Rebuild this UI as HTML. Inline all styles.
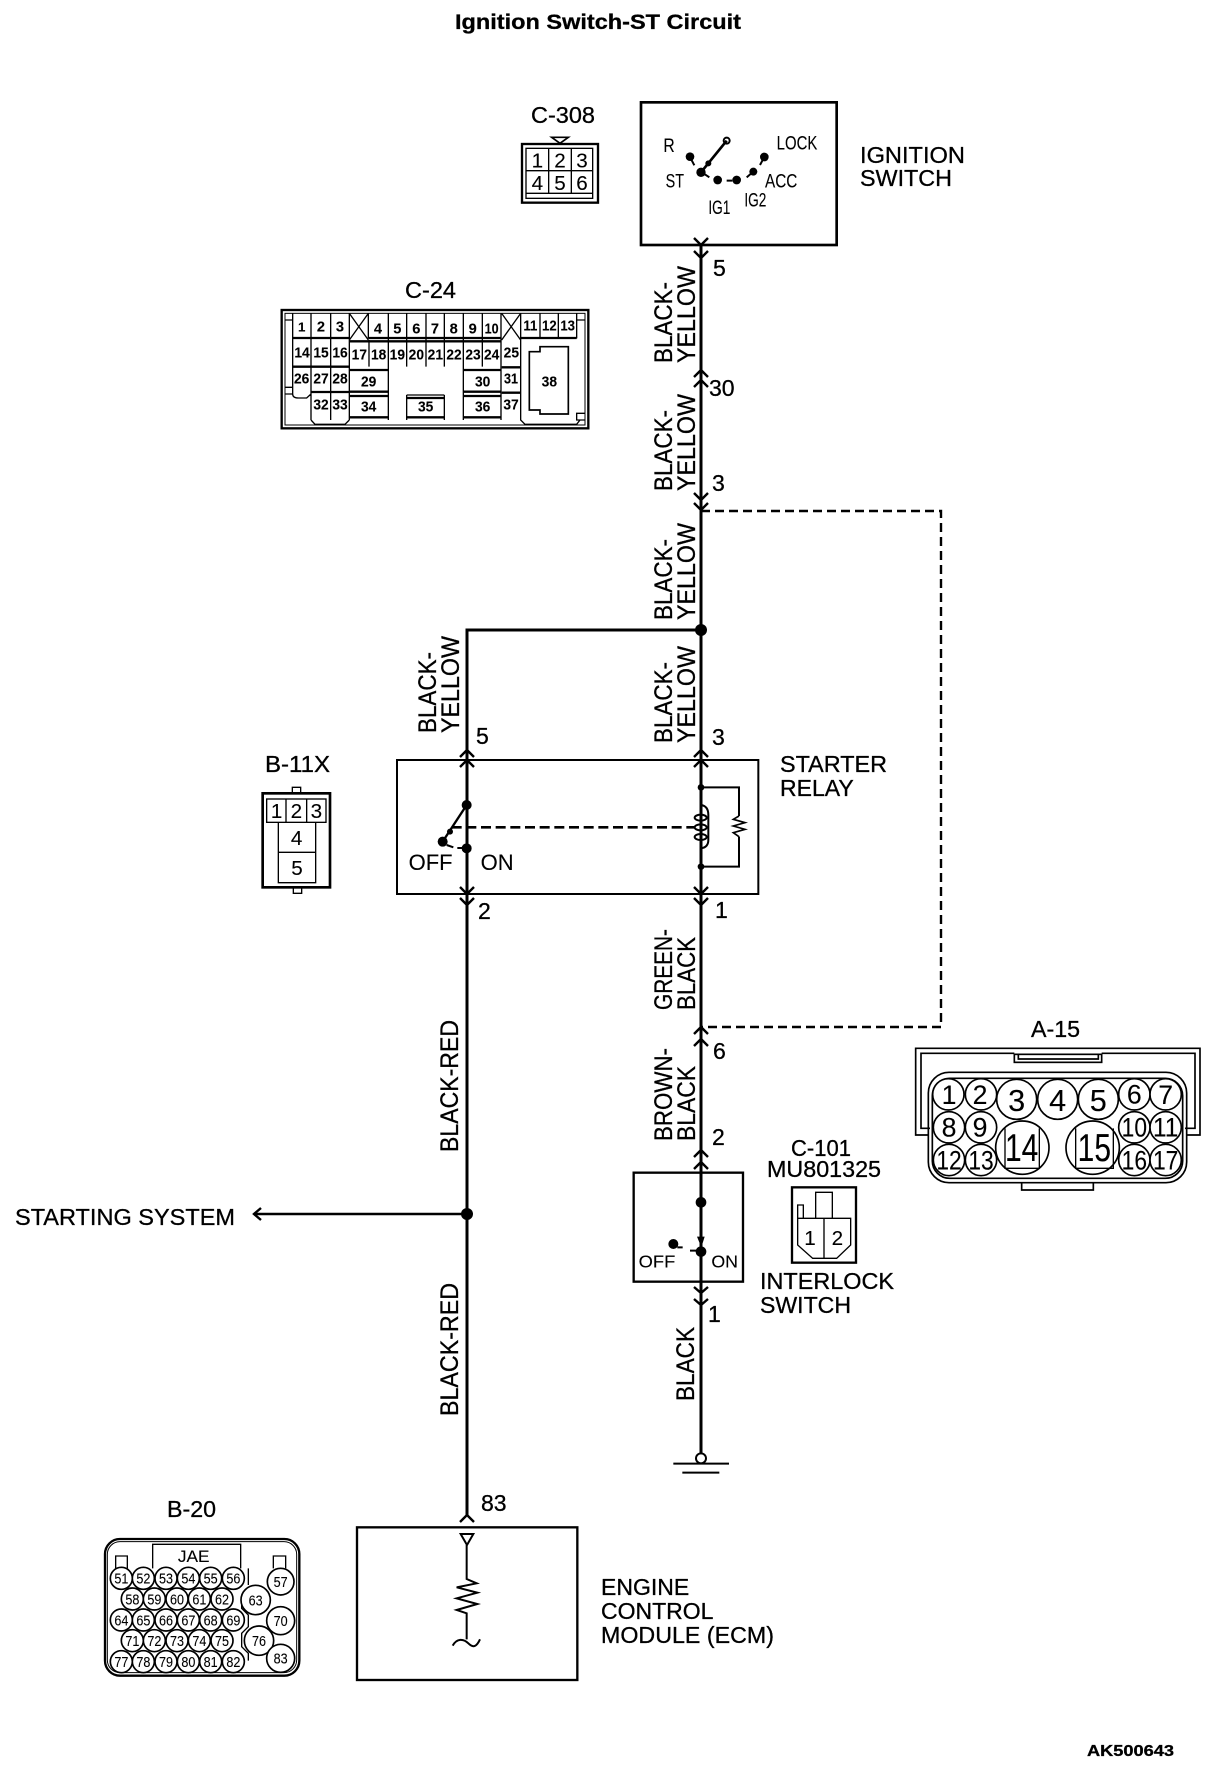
<!DOCTYPE html>
<html><head><meta charset="utf-8"><title>Ignition Switch-ST Circuit</title>
<style>
html,body{margin:0;padding:0;background:#fff}
svg{display:block}
text{font-family:"Liberation Sans",sans-serif;fill:#000;stroke:#000;stroke-width:.3}
.w{fill:none;stroke:#000;stroke-width:3}
.c{fill:none;stroke:#000;stroke-width:2.4}
.t{fill:none;stroke:#000;stroke-width:6}
.f{fill:#000;stroke:none}
.r{font-size:25px}
.n{font-size:23px}
.l{font-size:23px}
.m{text-anchor:middle}
.b{font-weight:bold}
</style></head><body>
<svg xmlns="http://www.w3.org/2000/svg" width="1216" height="1768" viewBox="0 0 1216 1768">
<rect width="1216" height="1768" fill="#fff"/>
<text x="455" y="29" font-size="21" class="b" textLength="286" lengthAdjust="spacingAndGlyphs">Ignition Switch-ST Circuit</text>
<text x="1087" y="1756" font-size="16" class="b" textLength="87" lengthAdjust="spacingAndGlyphs">AK500643</text>

<!-- wires -->
<path class="w" d="M701 245V1458"/>
<path class="w" d="M701 630H467V1515"/>
<path class="w" d="M467 1214H254" style="stroke-width:2.4"/>
<path class="c" d="M261 1208L254 1214L261 1220"/>
<path d="M701 511H941V1027H701" fill="none" stroke="#000" stroke-width="2.4" stroke-dasharray="9 5"/>
<circle cx="701" cy="630" r="6" class="f"/>
<circle cx="467" cy="1214" r="6" class="f"/>

<!-- chevrons -->
<path class="c" d="M694 238L701 245L708 238M694 251L701 258L708 251"/>
<path class="c" d="M694 377L701 370L708 377M694 387L701 380L708 387"/>
<path class="c" d="M694 493L701 500L708 493M694 503L701 510L708 503"/>
<path class="c" d="M694 1034L701 1027L708 1034M694 1046L701 1039L708 1046"/>
<path class="c" d="M694 757L701 750L708 757M694 767L701 760L708 767"/>
<path class="c" d="M460 757L467 750L474 757M460 767L467 760L474 767"/>
<path class="c" d="M460 887L467 894L474 887M460 898L467 905L474 898"/>
<path class="c" d="M694 887L701 894L708 887M694 898L701 905L708 898"/>
<path class="c" d="M694 1157L701 1150L708 1157M694 1169L701 1162L708 1169"/>
<path class="c" d="M694 1287L701 1293L708 1287M694 1299L701 1305L708 1299"/>
<path class="c" d="M460 1522L467 1515L474 1522"/>

<!-- wire labels -->
<g class="r">
<text transform="translate(672,363) rotate(-90)" textLength="81" lengthAdjust="spacingAndGlyphs">BLACK-</text>
<text transform="translate(695,363) rotate(-90)" textLength="97" lengthAdjust="spacingAndGlyphs">YELLOW</text>
<text transform="translate(672,491) rotate(-90)" textLength="81" lengthAdjust="spacingAndGlyphs">BLACK-</text>
<text transform="translate(695,491) rotate(-90)" textLength="97" lengthAdjust="spacingAndGlyphs">YELLOW</text>
<text transform="translate(672,620) rotate(-90)" textLength="81" lengthAdjust="spacingAndGlyphs">BLACK-</text>
<text transform="translate(695,620) rotate(-90)" textLength="97" lengthAdjust="spacingAndGlyphs">YELLOW</text>
<text transform="translate(672,743) rotate(-90)" textLength="81" lengthAdjust="spacingAndGlyphs">BLACK-</text>
<text transform="translate(695,743) rotate(-90)" textLength="97" lengthAdjust="spacingAndGlyphs">YELLOW</text>
<text transform="translate(436,733) rotate(-90)" textLength="81" lengthAdjust="spacingAndGlyphs">BLACK-</text>
<text transform="translate(459,733) rotate(-90)" textLength="97" lengthAdjust="spacingAndGlyphs">YELLOW</text>
<text transform="translate(672,1010) rotate(-90)" textLength="81" lengthAdjust="spacingAndGlyphs">GREEN-</text>
<text transform="translate(695,1010) rotate(-90)" textLength="73" lengthAdjust="spacingAndGlyphs">BLACK</text>
<text transform="translate(672,1141) rotate(-90)" textLength="93" lengthAdjust="spacingAndGlyphs">BROWN-</text>
<text transform="translate(695,1141) rotate(-90)" textLength="75" lengthAdjust="spacingAndGlyphs">BLACK</text>
<text transform="translate(694,1401) rotate(-90)" textLength="74" lengthAdjust="spacingAndGlyphs">BLACK</text>
<text transform="translate(458,1152) rotate(-90)" textLength="132" lengthAdjust="spacingAndGlyphs">BLACK-RED</text>
<text transform="translate(458,1416) rotate(-90)" textLength="133" lengthAdjust="spacingAndGlyphs">BLACK-RED</text>
</g>

<!-- pin numbers -->
<g class="n">
<text x="713" y="276">5</text><text x="709" y="396">30</text><text x="712" y="491">3</text>
<text x="476" y="744">5</text><text x="712" y="745">3</text>
<text x="478" y="919">2</text><text x="715" y="918">1</text>
<text x="713" y="1059">6</text><text x="712" y="1145">2</text><text x="708" y="1322">1</text>
<text x="481" y="1511">83</text>
</g>

<!-- labels -->
<g class="l">
<text x="531" y="123" textLength="64" lengthAdjust="spacingAndGlyphs">C-308</text>
<text x="860" y="163" textLength="105" lengthAdjust="spacingAndGlyphs">IGNITION</text><text x="860" y="186" textLength="92" lengthAdjust="spacingAndGlyphs">SWITCH</text>
<text x="405" y="298" textLength="51" lengthAdjust="spacingAndGlyphs">C-24</text>
<text x="265" y="772" textLength="65" lengthAdjust="spacingAndGlyphs">B-11X</text>
<text x="780" y="772" textLength="107" lengthAdjust="spacingAndGlyphs">STARTER</text><text x="780" y="796">RELAY</text>
<text x="1031" y="1037" textLength="49" lengthAdjust="spacingAndGlyphs">A-15</text>
<text x="791" y="1156" textLength="60" lengthAdjust="spacingAndGlyphs">C-101</text>
<text x="767" y="1177" textLength="114" lengthAdjust="spacingAndGlyphs">MU801325</text>
<text x="760" y="1289" textLength="134" lengthAdjust="spacingAndGlyphs">INTERLOCK</text>
<text x="760" y="1313" textLength="91" lengthAdjust="spacingAndGlyphs">SWITCH</text>
<text x="15" y="1225" textLength="220" lengthAdjust="spacingAndGlyphs">STARTING SYSTEM</text>
<text x="167" y="1517" textLength="49" lengthAdjust="spacingAndGlyphs">B-20</text>
<text x="601" y="1595">ENGINE</text><text x="601" y="1619">CONTROL</text><text x="601" y="1643" textLength="173" lengthAdjust="spacingAndGlyphs">MODULE (ECM)</text>
</g>

<!-- C-308 and ignition switch -->
<g transform="translate(500,80) scale(.33333)">
<rect x="66" y="192" width="228" height="176" class="t" fill="none" style="stroke-width:7"/>
<rect x="78" y="205" width="200" height="150" class="t" style="stroke-width:4"/>
<path class="t" style="stroke-width:4" d="M146 205V340M214 205V340M78 272H278M78 340H278"/>
<path class="t" style="stroke-width:5" d="M155 172H205L180 190Z"/>
<g font-size="62" class="m">
<text x="112" y="262">1</text><text x="180" y="262">2</text><text x="246" y="262">3</text>
<text x="112" y="330">4</text><text x="180" y="330">5</text><text x="246" y="330">6</text>
</g>
<rect x="423" y="67" width="587" height="428" class="t" style="stroke-width:8"/>
<g class="f">
<circle cx="570" cy="230" r="13"/><circle cx="603" cy="277" r="14"/><circle cx="625" cy="250" r="9"/>
<circle cx="653" cy="300" r="13"/><circle cx="710" cy="300" r="13"/><circle cx="760" cy="275" r="12"/><circle cx="793" cy="231" r="13"/>
</g>
<circle cx="680" cy="182" r="9" fill="#fff" stroke="#000" stroke-width="6"/>
<path class="t" d="M603 277L680 182" style="stroke-width:8"/>
<path class="t" d="M572 235L583 256M680 302H697M740 292L760 275M780 255L793 231M610 280L628 292"/>
<g font-size="58">
<text x="490" y="216" textLength="34" lengthAdjust="spacingAndGlyphs">R</text>
<text x="497" y="323" textLength="55" lengthAdjust="spacingAndGlyphs">ST</text>
<text x="625" y="402" textLength="66" lengthAdjust="spacingAndGlyphs">IG1</text>
<text x="733" y="380" textLength="66" lengthAdjust="spacingAndGlyphs">IG2</text>
<text x="795" y="322" textLength="97" lengthAdjust="spacingAndGlyphs">ACC</text>
<text x="830" y="209" textLength="122" lengthAdjust="spacingAndGlyphs">LOCK</text>
</g>
</g>

<!-- C-24 -->
<g transform="translate(260,270) scale(.33333)">
<rect x="65" y="120" width="920" height="355" class="t" style="stroke-width:7"/>
<rect x="75" y="130" width="900" height="335" class="t" style="stroke-width:3"/>
<path class="t" style="stroke-width:4" d="M75 150H98M75 352H98V375M75 372H98Q98 384 115 384H140L153 372M98 130V372M153 130V450M212 130V450M268 130V450M153 450L165 463H255L268 450M268 130L325 210M325 130L268 210M325 130V205M385 130V290M440 130V290M498 130V290M553 130V290M610 130V290M667 130V290M723 130V450M725 210L782 130M725 130L782 210M782 130V450L795 463H950L960 450M840 130V205M895 130V205M950 130V205M327 210V290M385 290V450M610 290V450M440 375V450M553 375V450M975 150H950M975 430H950V450H975M440 375H553"/>
<path class="t" style="stroke-width:7" d="M98 204H268M325 204H723M782 204H950M268 214H723M98 290H268M268 300H385M610 300H723M725 292H782M268 365H385M610 365H723M725 368H782M153 366H268M268 378H385M610 378H723M268 442H385M440 442H553M610 442H723M440 384H553"/>
<path class="t" style="stroke-width:5" d="M808 245H840V230H925V432H840V420H808Z"/>
<g font-size="44" class="m b">
<text x="125" y="184" font-size="40">1</text><text x="183" y="184">2</text><text x="240" y="184">3</text>
<text x="354" y="190">4</text><text x="412" y="190">5</text><text x="469" y="190">6</text><text x="525" y="190">7</text><text x="581" y="190">8</text><text x="638" y="190">9</text>
<text x="695" y="190" textLength="42" lengthAdjust="spacingAndGlyphs">10</text>
<text x="811" y="182" textLength="42" lengthAdjust="spacingAndGlyphs">11</text><text x="868" y="182" textLength="44" lengthAdjust="spacingAndGlyphs">12</text><text x="923" y="182" textLength="44" lengthAdjust="spacingAndGlyphs">13</text>
<text x="126" y="262" textLength="46" lengthAdjust="spacingAndGlyphs">14</text><text x="183" y="262" textLength="46" lengthAdjust="spacingAndGlyphs">15</text><text x="240" y="262" textLength="46" lengthAdjust="spacingAndGlyphs">16</text>
<text x="298" y="268" textLength="46" lengthAdjust="spacingAndGlyphs">17</text><text x="356" y="268" textLength="46" lengthAdjust="spacingAndGlyphs">18</text><text x="412" y="268" textLength="46" lengthAdjust="spacingAndGlyphs">19</text><text x="469" y="268" textLength="46" lengthAdjust="spacingAndGlyphs">20</text><text x="526" y="268" textLength="46" lengthAdjust="spacingAndGlyphs">21</text><text x="582" y="268" textLength="46" lengthAdjust="spacingAndGlyphs">22</text><text x="639" y="268" textLength="46" lengthAdjust="spacingAndGlyphs">23</text><text x="695" y="268" textLength="46" lengthAdjust="spacingAndGlyphs">24</text>
<text x="754" y="262" textLength="46" lengthAdjust="spacingAndGlyphs">25</text>
<text x="125" y="340" textLength="46" lengthAdjust="spacingAndGlyphs">26</text><text x="183" y="340" textLength="46" lengthAdjust="spacingAndGlyphs">27</text><text x="240" y="340" textLength="46" lengthAdjust="spacingAndGlyphs">28</text>
<text x="326" y="350" textLength="46" lengthAdjust="spacingAndGlyphs">29</text><text x="668" y="350" textLength="46" lengthAdjust="spacingAndGlyphs">30</text><text x="753" y="340" textLength="42" lengthAdjust="spacingAndGlyphs">31</text>
<text x="183" y="418" textLength="46" lengthAdjust="spacingAndGlyphs">32</text><text x="240" y="418" textLength="46" lengthAdjust="spacingAndGlyphs">33</text>
<text x="326" y="425" textLength="46" lengthAdjust="spacingAndGlyphs">34</text><text x="497" y="425" textLength="46" lengthAdjust="spacingAndGlyphs">35</text><text x="668" y="425" textLength="46" lengthAdjust="spacingAndGlyphs">36</text><text x="753" y="418" textLength="46" lengthAdjust="spacingAndGlyphs">37</text>
<text x="868" y="350" textLength="46" lengthAdjust="spacingAndGlyphs">38</text>
</g>
</g>

<!-- B-11X and starter relay -->
<g transform="translate(250,740) scale(.33333)">
<rect x="38" y="160" width="202" height="282" class="t" style="stroke-width:8"/>
<path class="t" style="stroke-width:4" d="M127 158V142H152V158M130 444V460H155V444"/>
<rect x="50" y="177" width="178" height="70" class="t" style="stroke-width:4"/>
<path class="t" style="stroke-width:4" d="M108 177V247M170 177V247M85 247V428H197V247M85 337H197"/>
<g font-size="62" class="m">
<text x="80" y="234">1</text><text x="139" y="234">2</text><text x="199" y="234">3</text>
<text x="140" y="315">4</text><text x="141" y="405">5</text>
</g>
<rect x="441" y="60" width="1084" height="402" class="t"/>
<path class="t" d="M650 60V195M650 325V462"/>
<path class="t" style="stroke-width:7" d="M650 195L578 305"/>
<path class="t" d="M590 315L610 322M622 324H650"/>
<g class="f">
<circle cx="650" cy="195" r="15"/><circle cx="578" cy="305" r="15"/><circle cx="600" cy="275" r="9"/><circle cx="650" cy="325" r="15"/>
<circle cx="1353" cy="142" r="10"/><circle cx="1353" cy="380" r="10"/>
</g>
<path fill="none" stroke="#000" stroke-width="8" stroke-dasharray="30 14" d="M605 262H1335"/>
<path class="t" d="M1353 60V195Q1375 198 1375 225V300Q1375 322 1353 325V462"/>
<path class="t" d="M1353 142H1467V228M1467 290V380H1353"/>
<path class="t" style="stroke-width:5" d="M1467 228L1450 238L1485 248L1450 258L1485 268L1450 278L1467 290"/>
<ellipse cx="1352" cy="233" rx="18" ry="9" class="t"/><ellipse cx="1352" cy="262" rx="18" ry="9" class="t"/><ellipse cx="1352" cy="291" rx="18" ry="9" class="t"/>
<g font-size="66">
<text x="476" y="390">OFF</text><text x="692" y="390">ON</text>
</g>
</g>

<!-- A-15 -->
<g transform="translate(900,1010) scale(.33333)">
<g class="t" style="stroke-width:5">
<path d="M85 375H47V115H900V375H860"/>
<path d="M90 355H63V130H343M605 130H885V355H855"/>
<rect x="343" y="133" width="262" height="24"/>
<path d="M355 133V147H595V133"/>
<rect x="85" y="187" width="775" height="331" rx="62"/>
<rect x="97" y="205" width="751" height="300" rx="52"/>
<path d="M365 518V540H580V518"/>
</g>
<g fill="#fff" stroke="#000" stroke-width="5">
<circle cx="145" cy="253" r="47"/><circle cx="243" cy="253" r="47"/><circle cx="350" cy="268" r="60"/><circle cx="473" cy="268" r="60"/><circle cx="595" cy="268" r="60"/><circle cx="703" cy="253" r="47"/><circle cx="797" cy="253" r="47"/>
<circle cx="147" cy="352" r="47"/><circle cx="243" cy="352" r="47"/><circle cx="703" cy="352" r="47"/><circle cx="797" cy="352" r="47"/>
<circle cx="147" cy="450" r="47"/><circle cx="243" cy="450" r="47"/><circle cx="367" cy="413" r="80"/><circle cx="578" cy="413" r="80"/><circle cx="703" cy="450" r="47"/><circle cx="797" cy="450" r="47"/>
</g>
<path class="t" style="stroke-width:4" d="M315 355V475H418V355M527 355V475H640V355"/>
<g font-size="80" class="m">
<text x="147" y="282">1</text><text x="240" y="282">2</text><text x="703" y="280">6</text><text x="797" y="282">7</text>
<text x="147" y="380">8</text><text x="240" y="380">9</text>
<text x="703" y="380" textLength="76" lengthAdjust="spacingAndGlyphs">10</text><text x="797" y="380" textLength="76" lengthAdjust="spacingAndGlyphs">11</text>
<text x="147" y="478" textLength="76" lengthAdjust="spacingAndGlyphs">12</text><text x="243" y="478" textLength="76" lengthAdjust="spacingAndGlyphs">13</text>
<text x="703" y="478" textLength="76" lengthAdjust="spacingAndGlyphs">16</text><text x="797" y="478" textLength="76" lengthAdjust="spacingAndGlyphs">17</text>
</g>
<g font-size="92" class="m">
<text x="350" y="303">3</text><text x="473" y="303">4</text><text x="595" y="303">5</text>
</g>
<g font-size="118" class="m">
<text x="365" y="453" textLength="100" lengthAdjust="spacingAndGlyphs">14</text><text x="583" y="453" textLength="100" lengthAdjust="spacingAndGlyphs">15</text>
</g>
</g>

<!-- Interlock switch and C-101 -->
<g transform="translate(620,1130) scale(.33333)">
<rect x="41" y="128" width="328" height="327" class="t" style="stroke-width:7"/>
<g class="f">
<circle cx="243" cy="217" r="16"/><circle cx="243" cy="365" r="16"/><circle cx="160" cy="342" r="15"/>
<path d="M231 320H254L244 352Z"/>
</g>
<path class="t" d="M210 362H243M172 352H188"/>
<g font-size="52">
<text x="56" y="413" textLength="110" lengthAdjust="spacingAndGlyphs">OFF</text><text x="274" y="413" textLength="80" lengthAdjust="spacingAndGlyphs">ON</text>
</g>
<rect x="516" y="172" width="192" height="226" class="t" style="stroke-width:7"/>
<path class="t" style="stroke-width:4" d="M587 265V187H637V265M533 265H692V345L650 385H578L533 345ZM612 265V385M533 265V225H550V265"/>
<g font-size="62" class="m">
<text x="570" y="345">1</text><text x="652" y="345">2</text>
</g>
</g>

<!-- B-20 -->
<g transform="translate(90,1490) scale(.33333)">
<rect x="45" y="147" width="583" height="410" rx="45" class="t" style="stroke-width:7"/>
<rect x="52" y="155" width="568" height="393" rx="38" class="t" style="stroke-width:3"/>
<path class="t" style="stroke-width:4" d="M188 235V163H452V235M77 235V198H112V235M550 235V198H587V235M475 235V285M455 330V355L475 375V410L455 430V470L475 490V512"/>
<g fill="#fff" stroke="#000" stroke-width="5">
<circle cx="94" cy="265" r="33"/><circle cx="160" cy="265" r="33"/><circle cx="228" cy="265" r="33"/><circle cx="295" cy="265" r="33"/><circle cx="362" cy="265" r="33"/><circle cx="430" cy="265" r="33"/>
<circle cx="127" cy="327" r="33"/><circle cx="193" cy="327" r="33"/><circle cx="261" cy="327" r="33"/><circle cx="328" cy="327" r="33"/><circle cx="396" cy="327" r="33"/>
<circle cx="94" cy="390" r="33"/><circle cx="160" cy="390" r="33"/><circle cx="228" cy="390" r="33"/><circle cx="295" cy="390" r="33"/><circle cx="362" cy="390" r="33"/><circle cx="430" cy="390" r="33"/>
<circle cx="127" cy="452" r="33"/><circle cx="193" cy="452" r="33"/><circle cx="261" cy="452" r="33"/><circle cx="328" cy="452" r="33"/><circle cx="396" cy="452" r="33"/>
<circle cx="94" cy="515" r="33"/><circle cx="160" cy="515" r="33"/><circle cx="228" cy="515" r="33"/><circle cx="295" cy="515" r="33"/><circle cx="362" cy="515" r="33"/><circle cx="430" cy="515" r="33"/>
<circle cx="572" cy="275" r="40"/><circle cx="497" cy="330" r="44"/><circle cx="572" cy="392" r="42"/><circle cx="507" cy="452" r="44"/><circle cx="572" cy="505" r="42"/>
</g>
<text x="311" y="216" font-size="50" class="m" textLength="95" lengthAdjust="spacingAndGlyphs">JAE</text>
<g font-size="44" class="m">
<text x="94" y="281" textLength="42" lengthAdjust="spacingAndGlyphs">51</text><text x="160" y="281" textLength="42" lengthAdjust="spacingAndGlyphs">52</text><text x="228" y="281" textLength="42" lengthAdjust="spacingAndGlyphs">53</text><text x="295" y="281" textLength="42" lengthAdjust="spacingAndGlyphs">54</text><text x="362" y="281" textLength="42" lengthAdjust="spacingAndGlyphs">55</text><text x="430" y="281" textLength="42" lengthAdjust="spacingAndGlyphs">56</text>
<text x="127" y="343" textLength="42" lengthAdjust="spacingAndGlyphs">58</text><text x="193" y="343" textLength="42" lengthAdjust="spacingAndGlyphs">59</text><text x="261" y="343" textLength="42" lengthAdjust="spacingAndGlyphs">60</text><text x="328" y="343" textLength="42" lengthAdjust="spacingAndGlyphs">61</text><text x="396" y="343" textLength="42" lengthAdjust="spacingAndGlyphs">62</text>
<text x="94" y="406" textLength="42" lengthAdjust="spacingAndGlyphs">64</text><text x="160" y="406" textLength="42" lengthAdjust="spacingAndGlyphs">65</text><text x="228" y="406" textLength="42" lengthAdjust="spacingAndGlyphs">66</text><text x="295" y="406" textLength="42" lengthAdjust="spacingAndGlyphs">67</text><text x="362" y="406" textLength="42" lengthAdjust="spacingAndGlyphs">68</text><text x="430" y="406" textLength="42" lengthAdjust="spacingAndGlyphs">69</text>
<text x="127" y="468" textLength="42" lengthAdjust="spacingAndGlyphs">71</text><text x="193" y="468" textLength="42" lengthAdjust="spacingAndGlyphs">72</text><text x="261" y="468" textLength="42" lengthAdjust="spacingAndGlyphs">73</text><text x="328" y="468" textLength="42" lengthAdjust="spacingAndGlyphs">74</text><text x="396" y="468" textLength="42" lengthAdjust="spacingAndGlyphs">75</text>
<text x="94" y="531" textLength="42" lengthAdjust="spacingAndGlyphs">77</text><text x="160" y="531" textLength="42" lengthAdjust="spacingAndGlyphs">78</text><text x="228" y="531" textLength="42" lengthAdjust="spacingAndGlyphs">79</text><text x="295" y="531" textLength="42" lengthAdjust="spacingAndGlyphs">80</text><text x="362" y="531" textLength="42" lengthAdjust="spacingAndGlyphs">81</text><text x="430" y="531" textLength="42" lengthAdjust="spacingAndGlyphs">82</text>
<text x="572" y="291" textLength="42" lengthAdjust="spacingAndGlyphs">57</text><text x="497" y="346" textLength="42" lengthAdjust="spacingAndGlyphs">63</text><text x="572" y="408" textLength="42" lengthAdjust="spacingAndGlyphs">70</text><text x="507" y="468" textLength="42" lengthAdjust="spacingAndGlyphs">76</text><text x="572" y="521" textLength="42" lengthAdjust="spacingAndGlyphs">83</text>
</g>
</g>

<!-- ECM -->
<g transform="translate(340,1480) scale(.33333)">
<rect x="51" y="142" width="661" height="458" class="t" style="stroke-width:7"/>
<path class="t" d="M362 162H400L381 195ZM380 195V297L410 310L350 322L412 338L350 355L412 372L350 390L380 400V478M338 497C350 475 370 475 385 490S410 500 420 478"/>
</g>

<!-- ground -->
<g transform="translate(660,1280) scale(.33333)">
<circle cx="123" cy="535" r="15" fill="#fff" stroke="#000" stroke-width="6"/>
<path class="t" d="M40 551H207M67 578H178"/>
</g>
</svg>
</body></html>
